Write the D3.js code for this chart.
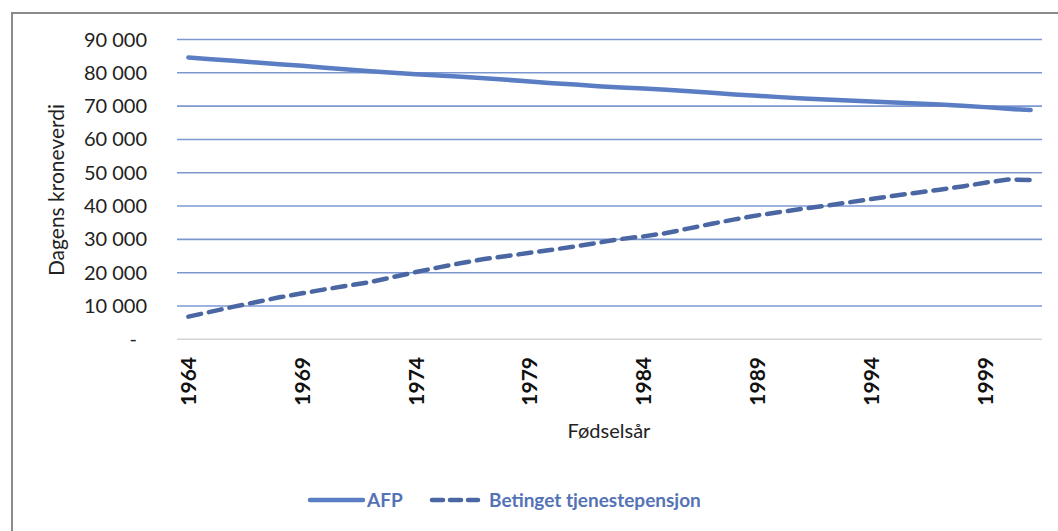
<!DOCTYPE html>
<html>
<head>
<meta charset="utf-8">
<script src="https://cdnjs.cloudflare.com/ajax/libs/d3/7.8.5/d3.min.js"></script>
<style>
  body { margin: 0; background: #fff; }
  text { font-family: Lato, "Open Sans", sans-serif; }
</style>
</head>
<body>
<div id="chart"></div>
<script>
// birth years 1964..2001
var years = [1964,1965,1966,1967,1968,1969,1970,1971,1972,1973,1974,1975,1976,1977,1978,1979,1980,1981,1982,
             1983,1984,1985,1986,1987,1988,1989,1990,1991,1992,1993,1994,1995,1996,1997,1998,1999,2000,2001];
var afp = [84600,84100,83600,83100,82600,82100,81500,81000,80500,80000,79600,79200,78800,78400,77900,77400,76900,76500,76000,
           75600,75300,74900,74500,74000,73500,73100,72700,72300,72000,71700,71400,71100,70800,70500,70100,69700,69200,68800];
var tjeneste = [6800,8300,9800,11200,12600,13800,15000,16100,17200,18700,20200,21600,22900,24100,25000,26000,26900,27900,29000,
                30100,30900,31900,33300,34700,36000,37200,38200,39200,40100,41100,42100,43100,44000,44900,45900,47000,48000,47800];
var yTicks = [0,10000,20000,30000,40000,50000,60000,70000,80000,90000];
var xTickYears = [1964,1969,1974,1979,1984,1989,1994,1999];

var W = 1058, H = 531;
var svg = d3.select("#chart").append("svg").attr("width", W).attr("height", H);

// outer frame
svg.append("rect").attr("x", 12).attr("y", 13).attr("width", 1060).attr("height", 560)
  .attr("fill", "none").attr("stroke", "#8a8a8a").attr("stroke-width", 2);

var x = d3.scaleBand().domain(years).range([177, 1042]);
var y = d3.scaleLinear().domain([0, 90000]).range([339.3, 39.5]);
var cx = function (yr) { return x(yr) + x.bandwidth() / 2; };

// gridlines
svg.selectAll("line.grid").data(yTicks).enter().append("line")
  .attr("x1", 177).attr("x2", 1042)
  .attr("y1", function (d) { return y(d); }).attr("y2", function (d) { return y(d); })
  .attr("stroke", function (d) { return d === 0 ? "#d4d4d4" : "#7d98d0"; })
  .attr("stroke-width", 1.6);

// y tick labels
var fmt = function (d) { return d === 0 ? "-" : d3.format(",")(d).replace(/,/g, " "); };
svg.selectAll("text.ytick").data(yTicks).enter().append("text")
  .attr("x", function (d) { return d === 0 ? 137 : 147; })
  .attr("y", function (d) { return y(d); })
  .attr("dy", "0.35em")
  .attr("text-anchor", "end")
  .attr("font-size", 20)
  .attr("fill", "#222")
  .text(fmt);

// x tick labels (rotated, bold)
svg.selectAll("text.xtick").data(xTickYears).enter().append("text")
  .attr("transform", function (d) { return "translate(" + cx(d) + ",357) rotate(-90)"; })
  .attr("dy", "0.36em")
  .attr("text-anchor", "end")
  .attr("font-size", 21)
  .attr("font-weight", "bold")
  .attr("fill", "#111")
  .text(function (d) { return d; });

// axis titles
svg.append("text").attr("x", 609).attr("y", 438).attr("text-anchor", "middle")
  .attr("font-size", 20).attr("fill", "#222").text("Fødselsår");
svg.append("text").attr("transform", "translate(57,190) rotate(-90)")
  .attr("dy", "0.35em").attr("text-anchor", "middle")
  .attr("font-size", 21).attr("fill", "#222").text("Dagens kroneverdi");

// lines
var line = d3.line().x(function (d, i) { return cx(years[i]); }).y(function (d) { return y(d); });
svg.append("path").datum(afp).attr("d", line)
  .attr("fill", "none").attr("stroke", "#5a7dc3").attr("stroke-width", 4.5)
  .attr("stroke-linecap", "round").attr("stroke-linejoin", "round");
svg.append("path").datum(tjeneste).attr("d", line)
  .attr("fill", "none").attr("stroke", "#4a67a3").attr("stroke-width", 4.5)
  .attr("stroke-dasharray", "13,8").attr("stroke-linecap", "round");

// legend
var legend = [
  { name: "AFP", color: "#5a7dc3", dash: null, x1: 310, x2: 363, tx: 367 },
  { name: "Betinget tjenestepensjon", color: "#4a67a3", dash: "11,7", x1: 432, x2: 478, tx: 489 }
];
legend.forEach(function (l) {
  svg.append("line").attr("x1", l.x1).attr("x2", l.x2).attr("y1", 500).attr("y2", 500)
    .attr("stroke", l.color).attr("stroke-width", 4.5).attr("stroke-dasharray", l.dash)
    .attr("stroke-linecap", "round");
  svg.append("text").attr("x", l.tx).attr("y", 500).attr("dy", "0.35em")
    .attr("font-size", 19).attr("font-weight", "bold").attr("fill", "#5473b6")
    .text(l.name);
});
</script>
</body>
</html>
